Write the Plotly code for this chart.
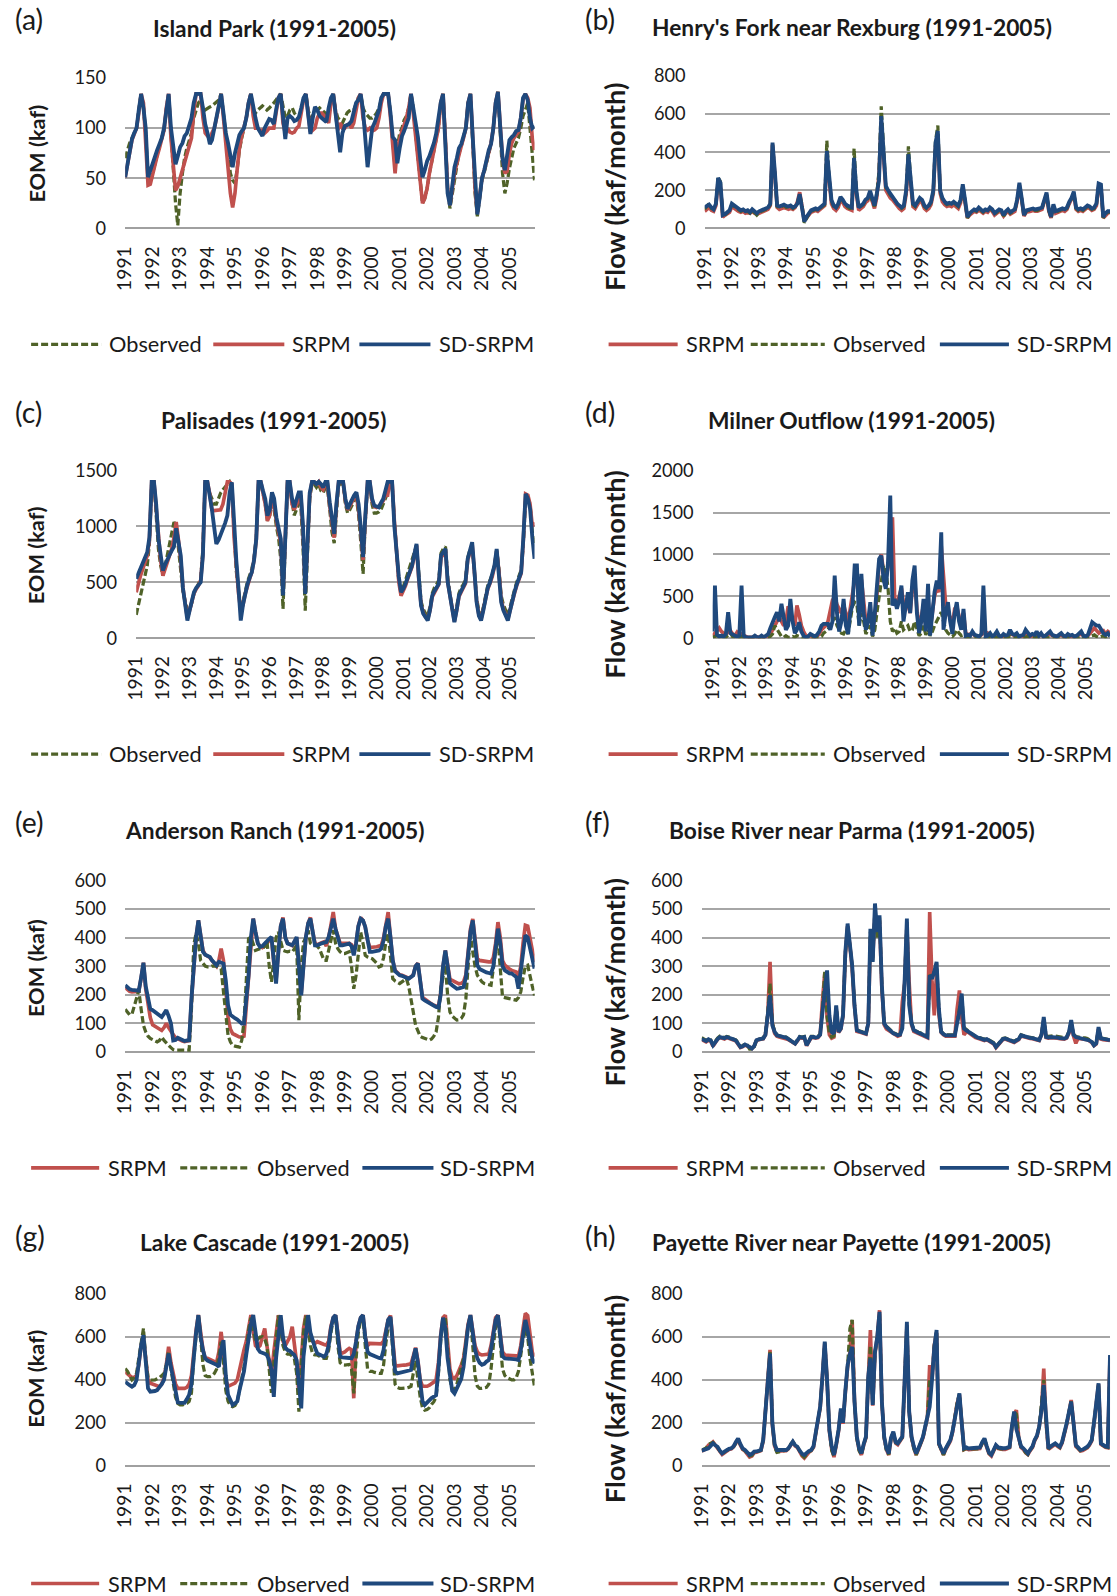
import pandas as pd
import plotly.graph_objects as go

# Layout positions below are given in target picture pixels (1117 x 1596).
# The page is captured at a slight zoom-out (VIEW_SCALE) and the figure sits
# inside the default 8 px body margin, so positions are mapped accordingly.
VIEW_SCALE = 0.9876
BODY_MARGIN = 8
SHIFT_X, SHIFT_Y = 8, 2.5
FIG_W, FIG_H = 1123, 1608
FONT = "Lato"
TEXT = "#1a1a1a"

# Monthly time axis, Jan 1991 - Dec 2005
months = pd.date_range("1991-01-01", periods=180, freq="MS")
year_starts = pd.date_range("1991-01-01", periods=15, freq="YS")
year_labels = [str(y) for y in range(1991, 2006)]

# ---------------- (a) Island Park, end-of-month storage (kaf) ----------------
island_obs = [
    70, 78, 85, 90, 95, 100, 118, 134, 120, 95, 50, 45,
    55, 65, 75, 82, 90, 98, 118, 134, 95, 60, 25, 3,
    35, 55, 70, 80, 88, 95, 110, 118, 125, 128, 120, 118,
    120, 121, 122, 124, 125, 128, 134, 115, 95, 75, 55, 48,
    45, 60, 78, 90, 100, 110, 125, 134, 118, 115, 118, 120,
    122, 120, 118, 120, 122, 125, 128, 132, 134, 120, 110, 112,
    118, 120, 115, 112, 110, 118, 128, 134, 118, 110, 112, 115,
    118, 120, 118, 116, 114, 112, 125, 134, 118, 110, 108, 105,
    110, 115, 117, 118, 118, 125, 130, 134, 120, 115, 112, 110,
    110, 112, 115, 120, 128, 134, 134, 134, 115, 90, 60, 80,
    95, 100, 108, 112, 120, 134, 120, 95, 70, 45, 25, 30,
    40, 55, 65, 75, 85, 100, 125, 134, 90, 40, 20, 35,
    50, 62, 75, 82, 90, 100, 125, 134, 85, 35, 12, 30,
    48, 56, 66, 75, 84, 100, 125, 136, 90, 55, 35, 45,
    60, 70, 80, 85, 90, 100, 112, 118, 125, 100, 75, 48,
]
island_srpm = [
    51, 63, 78, 88, 94, 100, 115, 134, 125, 90, 43, 44,
    55, 65, 72, 80, 88, 98, 120, 134, 90, 60, 38, 42,
    50, 58, 65, 72, 80, 90, 115, 134, 134, 134, 110, 95,
    92, 90, 95, 100, 110, 125, 134, 110, 85, 60, 35, 21,
    35, 60, 80, 92, 100, 110, 125, 134, 112, 100, 100, 97,
    98, 95, 97, 100, 100, 100, 115, 130, 134, 105, 95, 100,
    96, 95, 96, 100, 102, 115, 128, 134, 112, 96, 98, 100,
    110, 115, 115, 112, 110, 105, 125, 134, 112, 98, 105, 100,
    100, 103, 104, 100, 105, 120, 130, 134, 110, 100, 98, 100,
    97, 98, 100, 110, 125, 134, 134, 134, 110, 85, 55, 80,
    90, 97, 103, 110, 120, 134, 115, 91, 70, 45, 25, 30,
    40, 55, 65, 75, 85, 100, 125, 134, 90, 40, 23, 40,
    55, 65, 75, 82, 90, 100, 125, 134, 90, 40, 15, 35,
    50, 58, 66, 75, 85, 100, 125, 136, 100, 70, 55, 57,
    75, 85, 90, 93, 96, 110, 128, 134, 130, 120, 90, 78,
]
island_sd = [
    51, 65, 80, 89, 95, 100, 118, 134, 120, 100, 51, 58,
    67, 73, 78, 84, 90, 100, 120, 134, 100, 80, 64, 72,
    81, 85, 92, 95, 104, 110, 125, 134, 134, 134, 120, 104,
    95, 84, 88, 100, 108, 120, 134, 115, 95, 85, 70, 61,
    75, 87, 93, 97, 100, 110, 125, 134, 120, 110, 100, 95,
    92, 100, 105, 109, 108, 104, 118, 130, 134, 110, 89, 110,
    112, 110, 107, 108, 111, 120, 130, 134, 115, 94, 110, 121,
    118, 112, 110, 108, 106, 120, 130, 134, 115, 95, 76, 95,
    102, 103, 104, 107, 115, 125, 128, 134, 118, 85, 61, 80,
    100, 105, 111, 118, 130, 134, 134, 134, 115, 91, 88, 65,
    80, 92, 97, 103, 110, 134, 120, 105, 91, 70, 51, 58,
    67, 72, 77, 85, 94, 110, 125, 134, 90, 35, 23, 45,
    61, 70, 80, 84, 92, 100, 125, 134, 90, 50, 14, 30,
    50, 58, 70, 78, 84, 100, 125, 136, 100, 70, 58, 75,
    88, 91, 93, 97, 98, 110, 130, 134, 128, 110, 100, 102,
]

# ---------------- (b) Henry's Fork near Rexburg, flow (kaf/month) ----------------
henry_srpm = [
    90, 100, 110, 95, 90, 120, 250, 220, 60, 70, 80, 85,
    115, 105, 95, 90, 85, 90, 80, 85, 80, 90, 80, 75,
    80, 85, 90, 95, 100, 120, 440, 280, 110, 100, 105, 110,
    105, 100, 105, 100, 110, 140, 190, 120, 40, 55, 70, 85,
    90, 95, 90, 100, 110, 120, 380, 230, 130, 105, 95, 110,
    150, 135, 115, 105, 100, 95, 350, 180, 95, 105, 115, 135,
    145, 180, 135, 105, 160, 280, 560, 400, 200, 180, 160, 150,
    135, 115, 105, 95, 105, 180, 370, 230, 115, 105, 125, 145,
    135, 105, 95, 105, 125, 185, 430, 490, 185, 140, 125, 115,
    120, 115, 125, 115, 105, 135, 215, 135, 55, 70, 80, 90,
    85, 95, 90, 80, 90, 85, 100, 90, 70, 80, 90, 85,
    65, 80, 90, 75, 85, 90, 140, 225, 150, 65, 85, 90,
    90, 95, 90, 90, 95, 100, 140, 175, 90, 55, 115, 80,
    85, 90, 95, 90, 100, 130, 150, 180, 100, 90, 95, 90,
    100, 110, 105, 95, 100, 120, 220, 215, 55, 70, 80, 85,
]
henry_obs = [
    100, 115, 130, 105, 100, 130, 270, 245, 65, 70, 85, 95,
    125, 115, 105, 95, 90, 95, 85, 90, 80, 95, 85, 70,
    85, 90, 95, 100, 105, 125, 440, 290, 115, 110, 115, 120,
    110, 110, 115, 105, 115, 135, 175, 125, 30, 55, 75, 90,
    95, 100, 95, 105, 115, 125, 460, 260, 145, 115, 105, 125,
    160, 145, 125, 115, 105, 105, 420, 190, 105, 115, 125, 145,
    155, 190, 145, 115, 175, 300, 640, 430, 215, 195, 175, 165,
    145, 125, 115, 105, 115, 195, 430, 260, 125, 115, 135, 155,
    145, 115, 105, 115, 135, 195, 460, 540, 195, 155, 135, 125,
    130, 125, 135, 125, 115, 145, 225, 145, 55, 75, 85, 95,
    90, 105, 95, 85, 95, 90, 105, 95, 75, 85, 95, 90,
    65, 85, 95, 80, 90, 95, 145, 230, 155, 65, 90, 95,
    95, 100, 95, 95, 100, 105, 145, 180, 95, 55, 120, 85,
    90, 95, 100, 95, 105, 135, 155, 185, 105, 95, 100, 95,
    105, 115, 110, 100, 105, 125, 230, 225, 55, 75, 85, 85,
]
henry_sd = [
    110, 120, 125, 110, 100, 130, 265, 240, 70, 75, 85, 95,
    130, 120, 110, 100, 95, 100, 90, 95, 85, 100, 90, 80,
    90, 95, 100, 105, 110, 130, 450, 300, 120, 115, 120, 125,
    118, 115, 120, 110, 115, 130, 180, 110, 35, 60, 80, 95,
    100, 105, 100, 110, 120, 130, 406, 250, 150, 120, 110, 130,
    165, 150, 130, 120, 115, 110, 370, 200, 110, 120, 130, 150,
    160, 197, 150, 120, 180, 250, 589, 420, 223, 200, 180, 170,
    150, 130, 120, 110, 120, 200, 389, 250, 130, 120, 140, 160,
    150, 120, 110, 120, 140, 200, 450, 511, 200, 160, 140, 130,
    135, 130, 140, 130, 120, 150, 232, 150, 60, 80, 90, 100,
    95, 110, 100, 90, 100, 95, 110, 100, 80, 90, 100, 95,
    70, 90, 100, 85, 95, 100, 150, 240, 160, 70, 95, 100,
    100, 105, 100, 100, 105, 110, 150, 188, 100, 60, 127, 90,
    95, 100, 105, 100, 110, 140, 160, 193, 110, 100, 105, 100,
    110, 120, 115, 105, 110, 130, 235, 230, 60, 80, 90, 90,
]

# ---------------- (c) Palisades, end-of-month storage (kaf) ----------------
palisades_obs = [
    209, 300, 400, 480, 560, 650, 850, 1400, 1400, 1100, 800, 650,
    560, 650, 750, 850, 950, 1040, 1000, 800, 600, 420, 330, 250,
    260, 320, 400, 450, 490, 530, 800, 1400, 1380, 1300, 1250, 1200,
    1200, 1250, 1300, 1330, 1350, 1380, 1400, 1350, 900, 600, 420, 300,
    330, 430, 500, 560, 620, 720, 900, 1380, 1380, 1300, 1200, 1050,
    1100, 1200, 1150, 1000, 900, 700, 262, 850, 1400, 1350, 1200, 1100,
    1150, 1200, 1200, 800, 247, 800, 1250, 1380, 1380, 1350, 1380, 1320,
    1300, 1350, 1350, 1150, 950, 850, 1150, 1380, 1380, 1380, 1200, 1120,
    1150, 1200, 1230, 1250, 1100, 850, 575, 1050, 1380, 1380, 1200, 1120,
    1120, 1130, 1150, 1200, 1250, 1300, 1380, 1380, 1050, 800, 500, 420,
    460, 520, 580, 640, 700, 780, 830, 580, 330, 260, 220, 200,
    280, 400, 450, 480, 520, 760, 800, 820, 540, 400, 270, 200,
    280, 400, 450, 480, 520, 720, 790, 830, 600, 360, 240, 200,
    280, 400, 470, 520, 570, 650, 790, 620, 380, 300, 240, 200,
    280, 370, 430, 500, 560, 610, 850, 1250, 1250, 1200, 950, 829,
]
palisades_srpm = [
    411, 500, 560, 620, 680, 740, 880, 1400, 1400, 1150, 850, 700,
    560, 620, 680, 730, 800, 900, 1040, 880, 700, 450, 300, 180,
    250, 330, 400, 440, 470, 520, 750, 1400, 1400, 1300, 1150, 1142,
    1142, 1142, 1150, 1200, 1300, 1400, 1400, 1380, 900, 600, 400, 250,
    300, 400, 470, 530, 590, 700, 880, 1400, 1400, 1300, 1200, 1050,
    1100, 1250, 1200, 1050, 950, 850, 400, 900, 1400, 1400, 1200, 1150,
    1200, 1250, 1280, 950, 420, 850, 1280, 1400, 1400, 1380, 1400, 1350,
    1330, 1380, 1380, 1180, 1020, 900, 1180, 1400, 1400, 1400, 1230, 1150,
    1180, 1230, 1260, 1280, 1150, 950, 700, 1080, 1400, 1400, 1230, 1180,
    1170, 1180, 1200, 1230, 1280, 1280, 1400, 1400, 1050, 800, 500, 380,
    420, 470, 530, 580, 640, 740, 830, 520, 300, 230, 190, 170,
    250, 370, 410, 450, 480, 720, 760, 790, 500, 370, 240, 150,
    250, 370, 410, 450, 490, 700, 770, 840, 590, 330, 210, 170,
    260, 370, 440, 490, 550, 640, 780, 600, 340, 260, 210, 170,
    250, 340, 400, 470, 530, 580, 880, 1291, 1280, 1200, 1000, 1037,
]
palisades_sd = [
    531, 580, 630, 680, 730, 769, 903, 1400, 1400, 1200, 888, 750,
    605, 660, 710, 745, 784, 820, 984, 880, 740, 450, 300, 158,
    250, 330, 411, 450, 480, 500, 740, 1400, 1400, 1300, 1157, 1000,
    844, 880, 930, 963, 1030, 1097, 1300, 1396, 1000, 700, 441, 158,
    300, 411, 480, 540, 590, 700, 888, 1400, 1400, 1320, 1246, 1097,
    1150, 1306, 1250, 1082, 1000, 888, 382, 900, 1400, 1400, 1250, 1172,
    1250, 1306, 1306, 1000, 397, 900, 1300, 1400, 1400, 1380, 1400, 1380,
    1350, 1400, 1400, 1217, 1050, 933, 1200, 1400, 1400, 1400, 1250, 1157,
    1200, 1246, 1280, 1306, 1200, 978, 725, 1100, 1400, 1400, 1250, 1187,
    1180, 1172, 1210, 1246, 1320, 1400, 1400, 1400, 1000, 769, 550, 411,
    441, 490, 546, 600, 650, 750, 844, 550, 292, 220, 180, 158,
    250, 382, 420, 460, 486, 740, 770, 799, 500, 382, 250, 143,
    250, 382, 420, 460, 500, 710, 780, 859, 600, 322, 200, 158,
    250, 382, 450, 500, 561, 650, 799, 600, 322, 250, 200, 158,
    250, 350, 411, 480, 540, 590, 900, 1291, 1250, 1157, 900, 710,
]

# ---------------- (d) Milner Outflow, flow (kaf/month) ----------------
milner_srpm = [
    30, 60, 100, 120, 80, 60, 40, 80, 90, 50, 30, 70,
    40, 50, 30, 20, 10, 5, 10, 20, 10, 10, 20, 10,
    20, 30, 40, 100, 150, 200, 250, 200, 150, 200, 380, 300,
    200, 150, 390, 280, 150, 80, 30, 20, 30, 20, 10, 20,
    50, 100, 120, 150, 200, 350, 450, 500, 400, 350, 300, 400,
    300, 200, 350, 500, 700, 750, 400, 700, 400, 200, 250, 300,
    100, 250, 500, 900, 1000, 800, 700, 850, 1300, 1443, 450, 400,
    500, 600, 420, 420, 400, 300, 600, 700, 350, 150, 250, 400,
    150, 450, 100, 300, 500, 600, 550, 1100, 747, 400, 300, 250,
    150, 350, 380, 250, 150, 300, 60, 40, 50, 60, 30, 20,
    20, 40, 100, 30, 60, 40, 20, 30, 50, 20, 20, 30,
    20, 30, 60, 40, 30, 40, 20, 30, 20, 40, 50, 20,
    30, 20, 40, 30, 50, 20, 30, 40, 50, 30, 20, 20,
    30, 40, 20, 20, 30, 20, 30, 20, 20, 40, 50, 30,
    20, 30, 60, 100, 120, 90, 60, 80, 90, 50, 80, 60,
]
milner_obs = [
    10, 20, 30, 20, 10, 20, 10, 40, 60, 20, 10, 10,
    10, 20, 10, 5, 5, 5, 5, 10, 5, 5, 10, 5,
    5, 10, 20, 50, 150, 100, 50, 20, 10, 30, 10, 10,
    20, 10, 30, 20, 10, 5, 5, 5, 10, 5, 5, 5,
    10, 20, 60, 80, 100, 150, 200, 250, 150, 100, 60, 50,
    100, 50, 200, 380, 429, 400, 150, 300, 200, 50, 100, 150,
    20, 100, 300, 500, 700, 867, 820, 600, 200, 80, 120, 60,
    80, 200, 100, 120, 150, 80, 100, 200, 100, 30, 60, 150,
    40, 100, 30, 80, 150, 200, 250, 310, 200, 100, 60, 40,
    20, 50, 100, 60, 30, 40, 10, 5, 5, 10, 5, 5,
    5, 10, 20, 5, 5, 10, 5, 5, 10, 5, 5, 5,
    5, 10, 20, 10, 5, 10, 5, 5, 5, 10, 20, 5,
    10, 5, 10, 5, 10, 5, 5, 5, 10, 5, 5, 5,
    5, 10, 5, 5, 10, 5, 5, 5, 5, 10, 20, 5,
    5, 10, 20, 30, 40, 20, 10, 20, 30, 10, 20, 10,
]
milner_sd = [
    80, 628, 40, 20, 30, 20, 50, 310, 60, 40, 30, 20,
    30, 628, 30, 10, 10, 5, 10, 30, 10, 10, 30, 10,
    30, 50, 120, 200, 250, 310, 200, 410, 250, 100, 150, 469,
    200, 60, 100, 190, 80, 30, 10, 20, 50, 30, 20, 40,
    80, 150, 170, 170, 170, 100, 200, 747, 300, 80, 200, 469,
    150, 50, 300, 400, 867, 867, 150, 767, 300, 100, 200, 429,
    30, 300, 588, 946, 986, 700, 588, 900, 1702, 390, 469, 350,
    450, 628, 200, 350, 549, 300, 688, 867, 300, 60, 200, 469,
    80, 648, 30, 300, 550, 688, 588, 1264, 100, 300, 429, 200,
    50, 300, 429, 200, 100, 350, 30, 40, 30, 80, 40, 30,
    20, 50, 628, 20, 30, 60, 20, 40, 80, 30, 20, 50,
    30, 40, 100, 50, 40, 60, 20, 30, 40, 100, 60, 30,
    50, 40, 80, 30, 60, 20, 30, 50, 80, 40, 30, 20,
    40, 60, 30, 20, 50, 30, 40, 20, 30, 60, 80, 30,
    20, 40, 100, 190, 170, 150, 150, 100, 60, 40, 60, 20,
]

# ---------------- (e) Anderson Ranch, end-of-month storage (kaf) ----------------
anderson_srpm = [
    225, 218, 212, 210, 210, 210, 212, 258, 312, 220, 160, 120,
    95, 90, 85, 80, 75, 85, 100, 85, 70, 60, 50, 45,
    40, 38, 36, 38, 40, 180, 300, 400, 460, 400, 355, 340,
    335, 330, 320, 310, 300, 320, 361, 320, 230, 120, 80, 64,
    60, 55, 52, 52, 55, 160, 260, 400, 466, 420, 380, 370,
    365, 370, 380, 390, 400, 310, 250, 350, 440, 470, 400, 380,
    375, 372, 385, 400, 300, 205, 300, 400, 450, 470, 420, 380,
    375, 380, 382, 385, 370, 400, 440, 489, 430, 400, 380, 380,
    380, 382, 380, 375, 350, 380, 440, 470, 460, 437, 390, 365,
    365, 366, 368, 370, 372, 400, 450, 489, 400, 320, 285, 278,
    270, 268, 265, 260, 258, 262, 270, 300, 310, 250, 190, 185,
    178, 172, 168, 163, 160, 158, 205, 300, 355, 310, 255, 250,
    245, 240, 238, 240, 245, 270, 360, 430, 465, 390, 326, 320,
    318, 316, 315, 315, 315, 330, 380, 454, 400, 320, 303, 295,
    290, 285, 282, 280, 260, 300, 380, 443, 440, 400, 350, 315,
]
anderson_obs = [
    149, 140, 130, 132, 160, 190, 215, 150, 93, 70, 55, 47,
    42, 38, 35, 40, 52, 40, 30, 23, 15, 8, 6, 6,
    6, 6, 6, 6, 6, 150, 373, 414, 380, 320, 310, 300,
    297, 297, 300, 300, 300, 295, 291, 210, 120, 58, 35, 23,
    20, 18, 17, 40, 105, 250, 396, 402, 380, 355, 358, 361,
    361, 370, 390, 300, 245, 320, 400, 419, 380, 355, 352, 350,
    352, 350, 360, 373, 111, 300, 384, 400, 425, 380, 373, 373,
    370, 360, 340, 320, 320, 360, 390, 425, 380, 361, 350, 344,
    344, 347, 350, 300, 221, 268, 350, 419, 380, 338, 332, 328,
    326, 318, 310, 297, 300, 330, 384, 414, 320, 256, 248, 242,
    239, 245, 250, 256, 230, 175, 140, 93, 70, 55, 50, 47,
    45, 41, 45, 55, 70, 120, 221, 260, 303, 200, 140, 125,
    118, 111, 112, 117, 130, 186, 300, 408, 350, 300, 268, 255,
    245, 239, 236, 235, 233, 300, 350, 396, 300, 192, 190, 188,
    186, 184, 183, 181, 190, 210, 260, 300, 303, 260, 230, 198,
]
anderson_sd = [
    233, 225, 219, 217, 215, 214, 214, 260, 312, 230, 181, 150,
    146, 140, 134, 128, 122, 134, 146, 125, 100, 40, 42, 49,
    45, 40, 38, 40, 41, 186, 300, 400, 460, 400, 350, 340,
    335, 332, 320, 310, 303, 315, 312, 309, 250, 163, 130, 122,
    118, 113, 105, 99, 99, 180, 268, 400, 466, 420, 380, 367,
    370, 379, 385, 395, 402, 303, 239, 350, 440, 466, 400, 379,
    376, 373, 385, 402, 300, 198, 300, 400, 450, 466, 420, 373,
    373, 378, 380, 382, 384, 402, 440, 466, 430, 400, 373, 373,
    376, 379, 379, 370, 338, 380, 440, 466, 460, 437, 390, 350,
    350, 351, 352, 355, 361, 390, 440, 466, 400, 320, 282, 275,
    268, 266, 262, 258, 256, 262, 268, 300, 309, 250, 186, 180,
    175, 169, 165, 160, 157, 155, 200, 300, 355, 300, 240, 233,
    228, 221, 222, 225, 227, 260, 350, 420, 460, 380, 303, 290,
    285, 280, 278, 276, 274, 300, 360, 431, 380, 300, 285, 280,
    275, 274, 268, 262, 221, 280, 350, 408, 400, 360, 320, 291,
]

# ---------------- (f) Boise River near Parma, flow (kaf/month) ----------------
boise_srpm = [
    43, 40, 35, 40, 38, 20, 33, 44, 50, 48, 45, 50,
    48, 43, 42, 38, 28, 15, 18, 24, 20, 15, 12, 20,
    40, 43, 46, 46, 60, 130, 315, 100, 65, 55, 52, 50,
    50, 48, 43, 38, 33, 28, 38, 50, 48, 50, 22, 38,
    50, 50, 48, 50, 60, 180, 275, 120, 60, 48, 52, 150,
    68, 80, 125, 340, 440, 370, 290, 160, 72, 70, 68, 65,
    62, 100, 400, 330, 480, 430, 460, 220, 95, 80, 75, 68,
    62, 58, 55, 58, 175, 240, 440, 240, 95, 72, 68, 64,
    60, 58, 54, 50, 489, 250, 128, 280, 130, 68, 60, 55,
    55, 55, 55, 55, 150, 215, 120, 60, 70, 68, 62, 56,
    50, 48, 46, 43, 40, 43, 38, 33, 28, 15, 23, 33,
    43, 45, 43, 38, 36, 33, 38, 43, 56, 53, 50, 48,
    47, 46, 44, 42, 40, 60, 110, 50, 48, 50, 50, 50,
    48, 46, 45, 45, 48, 65, 100, 55, 30, 48, 46, 45,
    45, 43, 38, 33, 22, 28, 80, 45, 43, 41, 40, 40,
]
boise_obs = [
    50, 45, 40, 45, 42, 25, 38, 48, 55, 52, 50, 54,
    52, 47, 45, 42, 32, 18, 22, 28, 24, 10, 10, 18,
    42, 45, 48, 48, 65, 140, 239, 100, 72, 60, 56, 54,
    54, 52, 47, 42, 36, 30, 42, 54, 52, 54, 25, 42,
    54, 54, 52, 54, 62, 150, 280, 125, 66, 52, 56, 160,
    72, 84, 130, 345, 440, 370, 300, 165, 78, 74, 72, 68,
    66, 100, 420, 320, 500, 400, 470, 230, 100, 90, 82, 72,
    67, 64, 60, 62, 85, 250, 455, 170, 102, 78, 72, 69,
    66, 62, 58, 54, 270, 258, 280, 310, 150, 72, 64, 60,
    60, 60, 60, 60, 102, 145, 200, 85, 77, 72, 66, 60,
    54, 52, 50, 47, 44, 47, 42, 37, 32, 18, 27, 37,
    47, 49, 47, 42, 40, 37, 42, 47, 60, 57, 54, 52,
    51, 50, 48, 46, 43, 62, 115, 56, 54, 56, 56, 56,
    54, 52, 51, 50, 52, 72, 105, 62, 54, 52, 50, 49,
    49, 47, 42, 37, 25, 32, 80, 49, 47, 45, 44, 43,
]
boise_sd = [
    45, 42, 38, 44, 40, 23, 35, 45, 52, 50, 48, 52,
    50, 45, 44, 40, 30, 17, 20, 26, 22, 15, 12, 20,
    41, 44, 47, 47, 60, 120, 198, 93, 70, 58, 55, 52,
    52, 50, 45, 40, 35, 29, 40, 52, 50, 52, 23, 40,
    52, 52, 50, 52, 60, 140, 230, 285, 128, 70, 64, 163,
    70, 82, 130, 350, 449, 380, 303, 163, 76, 72, 70, 67,
    64, 100, 431, 315, 519, 419, 478, 233, 100, 87, 80, 70,
    65, 62, 58, 60, 82, 250, 466, 163, 100, 76, 70, 67,
    64, 60, 56, 52, 268, 256, 280, 315, 150, 70, 62, 58,
    58, 58, 58, 58, 100, 140, 204, 82, 75, 70, 64, 58,
    52, 50, 48, 45, 42, 45, 40, 35, 30, 17, 25, 35,
    45, 47, 45, 40, 38, 35, 40, 45, 58, 55, 52, 50,
    49, 48, 46, 44, 41, 60, 122, 52, 50, 52, 52, 52,
    50, 48, 47, 47, 50, 70, 111, 60, 52, 50, 48, 47,
    47, 45, 40, 35, 23, 30, 87, 47, 45, 43, 42, 41,
]

# ---------------- (g) Lake Cascade, end-of-month storage (kaf) ----------------
cascade_srpm = [
    438, 430, 420, 410, 412, 420, 470, 560, 600, 490, 400, 384,
    380, 376, 372, 368, 380, 410, 470, 554, 480, 420, 380, 360,
    360, 358, 360, 365, 380, 420, 530, 630, 702, 620, 540, 500,
    500, 495, 490, 485, 480, 530, 624, 520, 400, 370, 376, 380,
    385, 400, 450, 500, 539, 580, 650, 702, 630, 560, 550, 560,
    600, 640, 560, 500, 420, 530, 620, 702, 660, 580, 560, 580,
    600, 648, 560, 480, 330, 520, 640, 702, 660, 590, 580, 570,
    578, 575, 570, 565, 562, 580, 650, 690, 702, 600, 530, 525,
    530, 540, 547, 540, 314, 580, 650, 690, 702, 600, 560, 570,
    570, 570, 572, 570, 568, 580, 630, 680, 700, 580, 470, 465,
    465, 467, 469, 470, 472, 475, 510, 550, 490, 400, 370, 368,
    370, 375, 380, 390, 400, 480, 610, 690, 702, 560, 450, 410,
    407, 420, 440, 470, 500, 580, 660, 702, 640, 560, 530, 520,
    516, 516, 518, 520, 560, 630, 690, 702, 600, 530, 516, 516,
    516, 515, 514, 512, 510, 560, 640, 710, 700, 600, 530, 508,
]
cascade_obs = [
    453, 440, 420, 400, 410, 430, 500, 580, 640, 500, 410, 399,
    399, 400, 405, 410, 420, 430, 470, 531, 450, 380, 320, 290,
    283, 283, 285, 290, 300, 340, 500, 620, 702, 600, 470, 420,
    415, 415, 420, 430, 450, 510, 578, 480, 350, 300, 280, 275,
    280, 300, 350, 410, 460, 540, 630, 690, 640, 580, 590, 600,
    601, 590, 560, 430, 340, 480, 600, 700, 640, 560, 530, 520,
    520, 510, 500, 430, 252, 480, 620, 700, 640, 560, 520, 516,
    516, 510, 505, 500, 500, 540, 620, 680, 700, 560, 480, 470,
    469, 470, 472, 450, 337, 500, 620, 680, 700, 560, 450, 440,
    440, 435, 432, 430, 430, 470, 570, 650, 690, 520, 380, 365,
    360, 360, 360, 362, 365, 370, 430, 490, 400, 320, 270, 259,
    262, 270, 285, 298, 320, 430, 580, 680, 690, 520, 400, 360,
    352, 380, 420, 450, 500, 570, 650, 700, 560, 420, 370, 360,
    360, 362, 365, 380, 450, 560, 650, 700, 560, 450, 420, 410,
    405, 400, 400, 410, 440, 520, 590, 640, 600, 500, 420, 368,
]
cascade_sd = [
    391, 385, 375, 368, 375, 399, 480, 560, 609, 480, 360, 345,
    345, 348, 352, 365, 380, 400, 460, 523, 460, 399, 330, 295,
    293, 293, 293, 310, 330, 380, 508, 620, 702, 600, 539, 500,
    490, 485, 480, 477, 470, 461, 540, 585, 420, 330, 300, 283,
    290, 300, 350, 400, 440, 520, 600, 660, 702, 620, 545, 530,
    528, 522, 516, 490, 446, 321, 500, 620, 702, 600, 550, 539,
    535, 525, 516, 492, 400, 267, 508, 620, 702, 620, 578, 550,
    523, 518, 512, 508, 520, 560, 640, 690, 702, 600, 508, 505,
    505, 503, 502, 500, 520, 580, 650, 690, 702, 600, 531, 520,
    515, 508, 505, 502, 500, 540, 620, 680, 694, 560, 440, 430,
    432, 435, 438, 440, 444, 446, 500, 547, 480, 380, 300, 283,
    295, 306, 315, 322, 329, 450, 600, 690, 640, 500, 420, 350,
    337, 360, 390, 405, 460, 560, 650, 702, 620, 540, 500, 480,
    470, 475, 485, 492, 540, 620, 680, 702, 580, 510, 500, 500,
    500, 500, 497, 495, 492, 540, 620, 679, 630, 560, 500, 477,
]

# ---------------- (h) Payette River near Payette, flow (kaf/month) ----------------
payette_srpm = [
    68, 72, 78, 95, 100, 110, 95, 85, 65, 52, 60, 70,
    75, 78, 88, 105, 125, 95, 75, 68, 55, 40, 45, 60,
    62, 65, 70, 115, 250, 400, 540, 190, 90, 68, 68, 70,
    70, 70, 78, 98, 110, 92, 85, 65, 45, 35, 50, 62,
    70, 85, 145, 215, 270, 420, 570, 400, 160, 80, 40, 95,
    160, 260, 195, 340, 460, 530, 679, 300, 130, 75, 50, 95,
    130, 400, 632, 280, 520, 600, 725, 300, 130, 75, 50, 125,
    150, 105, 98, 115, 130, 390, 650, 250, 130, 85, 50, 75,
    105, 130, 175, 225, 469, 400, 560, 620, 100, 75, 50, 75,
    95, 115, 155, 225, 290, 330, 200, 75, 80, 75, 76, 76,
    76, 76, 80, 105, 122, 85, 55, 45, 70, 92, 80, 76,
    76, 76, 80, 84, 175, 240, 259, 130, 85, 76, 60, 52,
    70, 85, 115, 135, 180, 260, 453, 200, 76, 85, 95, 100,
    90, 83, 105, 145, 190, 245, 306, 200, 90, 80, 68, 70,
    75, 83, 95, 115, 195, 300, 380, 100, 90, 85, 83, 510,
]
payette_obs = [
    72, 78, 82, 100, 105, 108, 95, 85, 68, 55, 62, 72,
    76, 80, 88, 108, 120, 98, 78, 70, 58, 45, 48, 62,
    64, 68, 72, 118, 255, 400, 530, 200, 85, 62, 65, 70,
    70, 72, 80, 100, 112, 95, 88, 68, 50, 40, 52, 64,
    70, 88, 148, 220, 272, 420, 575, 400, 165, 70, 45, 98,
    165, 262, 198, 345, 465, 640, 680, 300, 130, 70, 50, 98,
    132, 410, 560, 283, 525, 600, 710, 300, 130, 70, 52, 128,
    155, 108, 100, 118, 132, 400, 660, 250, 132, 80, 50, 78,
    108, 132, 178, 228, 400, 400, 560, 625, 100, 70, 50, 78,
    98, 118, 158, 226, 292, 335, 200, 75, 82, 75, 78, 78,
    78, 78, 82, 108, 125, 88, 57, 48, 72, 94, 82, 78,
    78, 78, 82, 86, 178, 250, 240, 125, 88, 78, 60, 52,
    72, 88, 118, 138, 180, 280, 400, 200, 78, 88, 98, 102,
    92, 85, 108, 148, 194, 250, 300, 200, 92, 82, 70, 72,
    78, 86, 98, 118, 198, 300, 380, 100, 92, 88, 85, 500,
]
payette_sd = [
    70, 75, 80, 81, 92, 104, 95, 88, 70, 57, 65, 73,
    78, 81, 90, 110, 127, 100, 80, 73, 60, 50, 55, 65,
    66, 70, 73, 120, 259, 400, 523, 200, 100, 73, 73, 73,
    73, 73, 80, 100, 112, 95, 88, 70, 55, 50, 60, 68,
    73, 90, 150, 220, 275, 420, 578, 400, 166, 90, 50, 100,
    166, 267, 200, 350, 469, 520, 554, 300, 135, 80, 57, 100,
    135, 420, 500, 283, 531, 600, 717, 300, 135, 80, 57, 130,
    158, 110, 104, 120, 135, 400, 671, 250, 135, 90, 57, 80,
    110, 135, 180, 230, 275, 400, 550, 632, 104, 80, 57, 80,
    100, 120, 160, 228, 290, 337, 200, 81, 85, 80, 81, 81,
    81, 81, 85, 110, 127, 90, 60, 50, 75, 96, 85, 81,
    81, 81, 85, 88, 180, 252, 170, 120, 90, 81, 65, 57,
    75, 90, 120, 140, 182, 260, 376, 200, 81, 90, 100, 104,
    95, 88, 110, 150, 197, 250, 298, 200, 96, 85, 73, 75,
    80, 88, 100, 120, 200, 300, 384, 104, 95, 90, 88, 516,
]


def fs(size):
    """Size in target pixels -> size in figure pixels."""
    return size / VIEW_SCALE


SERIES_STYLE = {
    "SRPM": dict(color="#C0504D", width=fs(3.6), dash="solid"),
    "Observed": dict(color="#4F6228", width=fs(3.2), dash="7px,3px"),
    "SD-SRPM": dict(color="#1F497D", width=fs(3.8), dash="solid"),
}

# Column geometry (target pixels): panel letter, title centre, axis title, legend rows
LEFT = dict(letter_x=8, title_cx=277, ytitle_x=39,
            legend=[(34, 104, 110), (216, 287, 293), (362, 433, 440)])
RIGHT = dict(letter_x=585, title_cx=854, ytitle_x=617,
             legend=[(611, 680, 686), (753, 827, 833), (942, 1011, 1017)])
LEFT_ALT = dict(LEFT, legend=[(34, 102, 109), (183, 253, 258), (365, 436, 441)])

panels = [
    dict(letter="(a)", title="Island Park (1991-2005)", ytitle="EOM (kaf)",
         series=[("Observed", island_obs), ("SRPM", island_srpm), ("SD-SRPM", island_sd)],
         ymax=150, dtick=50, box=(128, 537, 77, 228), col=LEFT,
         letter_y=18, title_y=28, ytitle_y=153, legend_y=344),
    dict(letter="(b)", title="Henry's Fork near Rexburg (1991-2005)", ytitle="Flow (kaf/month)",
         series=[("SRPM", henry_srpm), ("Observed", henry_obs), ("SD-SRPM", henry_sd)],
         ymax=800, dtick=200, box=(707, 1112, 75, 228), col=RIGHT,
         letter_y=18, title_y=27, ytitle_y=186, legend_y=344),
    dict(letter="(c)", title="Palisades (1991-2005)", ytitle="EOM (kaf)",
         series=[("Observed", palisades_obs), ("SRPM", palisades_srpm), ("SD-SRPM", palisades_sd)],
         ymax=1500, dtick=500, box=(139, 537, 470, 638), col=LEFT,
         letter_y=412, title_y=420, ytitle_y=555, legend_y=754),
    dict(letter="(d)", title="Milner Outflow (1991-2005)", ytitle="Flow (kaf/month)",
         series=[("SRPM", milner_srpm), ("Observed", milner_obs), ("SD-SRPM", milner_sd)],
         ymax=2000, dtick=500, box=(715, 1112, 470, 638), col=RIGHT,
         letter_y=412, title_y=420, ytitle_y=574, legend_y=754),
    dict(letter="(e)", title="Anderson Ranch (1991-2005)", ytitle="EOM (kaf)",
         series=[("SRPM", anderson_srpm), ("Observed", anderson_obs), ("SD-SRPM", anderson_sd)],
         ymax=600, dtick=100, box=(128, 537, 880, 1052), col=LEFT_ALT,
         letter_y=822, title_y=830, ytitle_y=968, legend_y=1168),
    dict(letter="(f)", title="Boise River near Parma (1991-2005)", ytitle="Flow (kaf/month)",
         series=[("SRPM", boise_srpm), ("Observed", boise_obs), ("SD-SRPM", boise_sd)],
         ymax=600, dtick=100, box=(704, 1112, 880, 1052), col=RIGHT,
         letter_y=822, title_y=830, ytitle_y=982, legend_y=1168),
    dict(letter="(g)", title="Lake Cascade (1991-2005)", ytitle="EOM (kaf)",
         series=[("SRPM", cascade_srpm), ("Observed", cascade_obs), ("SD-SRPM", cascade_sd)],
         ymax=800, dtick=200, box=(128, 537, 1294, 1466), col=LEFT_ALT,
         letter_y=1236, title_y=1243, ytitle_y=1379, legend_y=1584),
    dict(letter="(h)", title="Payette River near Payette (1991-2005)", ytitle="Flow (kaf/month)",
         series=[("SRPM", payette_srpm), ("Observed", payette_obs), ("SD-SRPM", payette_sd)],
         ymax=800, dtick=200, box=(704, 1112, 1294, 1466), col=RIGHT,
         letter_y=1236, title_y=1243, ytitle_y=1399, legend_y=1584),
]

YTITLE_SIZE = {"EOM (kaf)": 21.5, "Flow (kaf/month)": 27}


def px_x(x):
    """Target x pixel -> paper fraction of the figure."""
    f = (x - SHIFT_X) / VIEW_SCALE - BODY_MARGIN
    return min(1.0, max(0.0, f / FIG_W))


def px_y(y):
    """Target y pixel (from top) -> paper fraction of the figure."""
    f = (y - SHIFT_Y) / VIEW_SCALE - BODY_MARGIN
    return min(1.0, max(0.0, 1 - f / FIG_H))


fig = go.Figure()
annotations = []
shapes = []
layout_axes = {}

for k, p in enumerate(panels, start=1):
    sfx = "" if k == 1 else str(k)
    x0, x1, y0, y1 = p["box"]
    for name, values in p["series"]:
        st = SERIES_STYLE[name]
        fig.add_trace(go.Scatter(
            x=months, y=values, name=name, mode="lines", showlegend=False,
            line=dict(color=st["color"], width=st["width"], dash=st["dash"]),
            xaxis="x" + sfx, yaxis="y" + sfx, hoverinfo="skip",
        ))

    layout_axes["xaxis" + sfx] = dict(
        domain=[px_x(x0), px_x(x1)], anchor="y" + sfx, type="date",
        range=[months[0], months[-1]], tickmode="array",
        tickvals=list(year_starts), ticktext=year_labels, tickangle=-90,
        showgrid=False, zeroline=False, showline=False, ticks="",
        ticklabelstandoff=int(round(fs(13))),
        tickfont=dict(family=FONT, size=fs(19), color=TEXT),
    )
    layout_axes["yaxis" + sfx] = dict(
        domain=[px_y(y1), px_y(y0)], anchor="x" + sfx,
        range=[0, p["ymax"] * 1.002], dtick=p["dtick"], tick0=0,
        showgrid=True, gridcolor="#A6A6A6", gridwidth=fs(1.6),
        zeroline=True, zerolinecolor="#A0A0A0", zerolinewidth=fs(2),
        showline=False, ticks="", ticklabelstandoff=int(round(fs(18))),
        tickfont=dict(family=FONT, size=fs(18), color=TEXT),
    )

    c = p["col"]
    annotations.append(dict(
        text=p["letter"], x=px_x(c["letter_x"]), y=px_y(p["letter_y"]),
        xref="paper", yref="paper", xanchor="left", yanchor="middle",
        showarrow=False, font=dict(family=FONT, size=fs(28), color=TEXT)))
    annotations.append(dict(
        text="<b>%s</b>" % p["title"], x=px_x(c["title_cx"]), y=px_y(p["title_y"]),
        xref="paper", yref="paper", xanchor="center", yanchor="middle",
        showarrow=False, font=dict(family=FONT, size=fs(22.5), color=TEXT)))
    annotations.append(dict(
        text="<b>%s</b>" % p["ytitle"], x=px_x(c["ytitle_x"]), y=px_y(p["ytitle_y"]),
        xref="paper", yref="paper", xanchor="center", yanchor="middle",
        textangle=-90, showarrow=False,
        font=dict(family=FONT, size=fs(YTITLE_SIZE[p["ytitle"]]), color=TEXT)))

    # Legend row: a line sample followed by the series name
    for (lx0, lx1, tx), (name, _) in zip(c["legend"], p["series"]):
        st = SERIES_STYLE[name]
        shapes.append(dict(
            type="line", xref="paper", yref="paper",
            x0=px_x(lx0), x1=px_x(lx1), y0=px_y(p["legend_y"]), y1=px_y(p["legend_y"]),
            line=dict(color=st["color"], width=st["width"], dash=st["dash"])))
        annotations.append(dict(
            text=name, x=px_x(tx), y=px_y(p["legend_y"]),
            xref="paper", yref="paper", xanchor="left", yanchor="middle",
            showarrow=False, font=dict(family=FONT, size=fs(21.5), color=TEXT)))

fig.update_layout(
    width=FIG_W, height=FIG_H,
    margin=dict(l=0, r=0, t=0, b=0),
    paper_bgcolor="white", plot_bgcolor="white",
    font=dict(family=FONT, color=TEXT),
    annotations=annotations, shapes=shapes,
    showlegend=False,
    **layout_axes,
)

fig.write_html("out.html")
